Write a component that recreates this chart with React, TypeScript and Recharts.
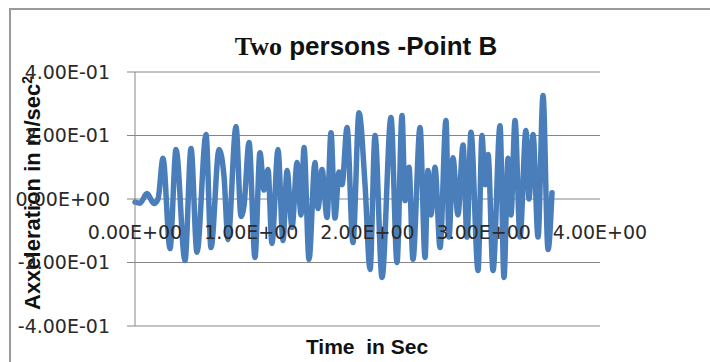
import React from 'react';
import { LineChart, Line, XAxis, YAxis, CartesianGrid } from 'recharts';

// Time stamps (s) of the recorded turning points
const times = [
  0, 0.043, 0.103, 0.163, 0.198, 0.241, 0.301, 0.353, 0.43, 0.482,
  0.533, 0.611, 0.654, 0.723, 0.766, 0.8, 0.869, 0.912, 0.938, 0.981,
  1.032, 1.075, 1.11, 1.144, 1.178, 1.23, 1.273, 1.308, 1.351, 1.394,
  1.428, 1.454, 1.497, 1.548, 1.574, 1.609, 1.652, 1.686, 1.72, 1.755,
  1.781, 1.824, 1.875, 1.927, 1.978, 2.022, 2.065, 2.125, 2.202, 2.254,
  2.297, 2.323, 2.357, 2.391, 2.452, 2.495, 2.52, 2.546, 2.581, 2.624,
  2.675, 2.701, 2.735, 2.778, 2.822, 2.856, 2.89, 2.951, 2.985, 3.011,
  3.037, 3.08, 3.14, 3.174, 3.209, 3.234, 3.269, 3.312, 3.363, 3.389,
  3.424, 3.467, 3.51, 3.553, 3.587,
];

// Acceleration (m/sec^2) at Point B, two persons
const accel = [
  -0.01, -0.013, 0.017, -0.014, 0.0, 0.128, -0.156, 0.156, -0.194, 0.159,
  -0.168, 0.203, -0.153, 0.156, 0.07, -0.128, 0.228, -0.055, -0.02, 0.178,
  -0.184, 0.146, 0.028, 0.093, -0.14, 0.156, -0.131, 0.09, -0.09, 0.115,
  -0.05, 0.162, -0.19, 0.115, -0.03, 0.093, -0.058, 0.209, -0.06, 0.085,
  0.045, 0.225, -0.137, 0.272, 0.05, -0.222, 0.2, -0.247, 0.257, -0.2,
  0.263, -0.005, 0.1, -0.19, 0.225, -0.184, 0.09, -0.05, 0.1, -0.153,
  0.247, -0.12, 0.13, -0.05, 0.17, -0.12, 0.21, -0.225, 0.2, 0.045,
  0.14, -0.225, 0.231, -0.247, 0.128, -0.05, 0.247, -0.12, 0.216, 0.0,
  0.203, -0.12, 0.326, -0.159, 0.02,
];

const xTicks = [0, 1, 2, 3, 4];
const yTicks = [-0.4, -0.2, 0, 0.2, 0.4];

const data = times.map((t, i) => ({ t, a: accel[i] }));

// Excel-style scientific notation, e.g. 4.00E-01
const sci = (v: number) => {
  const [m, e] = v.toExponential(2).split('e');
  const sign = e[0] === '-' ? '-' : '+';
  const digits = e.replace(/^[+-]/, '').padStart(2, '0');
  return `${m}E${sign}${digits}`;
};

const XTick = (props: any) => {
  const { x, y, payload } = props;
  return (
    <text
      x={x}
      y={y}
      dy={-87}
      textAnchor="middle"
      fontFamily="DejaVu Sans"
      fontSize={19}
      fill="#2a2a2a"
    >
      {sci(payload.value)}
    </text>
  );
};

export default function App() {
  return (
    <div>
      <div
        style={{
          position: 'absolute',
          left: 9,
          top: 8,
          width: 701,
          height: 354,
          boxSizing: 'border-box',
          borderLeft: '2px solid #9a9a9a',
          borderTop: '2px solid #9a9a9a',
        }}
      />
      <div style={{ position: 'absolute', left: 0, top: 0 }}>
        <LineChart
          width={710}
          height={362}
          data={data}
          margin={{ top: 72, right: 110, bottom: 16, left: 0 }}
        >
          <CartesianGrid vertical={false} stroke="#868686" strokeWidth={1} />
          <XAxis
            type="number"
            dataKey="t"
            domain={[0, 4]}
            ticks={xTicks}
            interval={0}
            height={20}
            axisLine={false}
            tickLine={false}
            tickSize={0}
            tickMargin={0}
            tick={<XTick />}
          />
          <YAxis
            type="number"
            domain={[-0.4, 0.4]}
            ticks={yTicks}
            interval={0}
            width={135}
            tickSize={8}
            tickMargin={17}
            tickFormatter={sci}
            axisLine={{ stroke: '#868686' }}
            tickLine={{ stroke: '#868686' }}
            tick={{ fontFamily: 'DejaVu Sans', fontSize: 19, fill: '#2a2a2a' }}
          />
          <Line
            type="monotone"
            dataKey="a"
            stroke="#4A7EBB"
            strokeWidth={5.5}
            strokeLinejoin="round"
            strokeLinecap="round"
            dot={false}
            isAnimationActive={false}
          />
          <text x={366} y={55} textAnchor="middle" fontWeight="bold" fontSize={26} fill="#111">
            <tspan fontFamily="Liberation Serif">Two</tspan>
            <tspan fontFamily="Liberation Sans"> persons -Point B</tspan>
          </text>
          <text
            x={367}
            y={354}
            textAnchor="middle"
            fontFamily="Liberation Sans"
            fontWeight="bold"
            fontSize={21}
            fill="#111"
            style={{ whiteSpace: 'pre' }}
          >
            {'Time  in Sec'}
          </text>
          <text
            transform="translate(40,193) rotate(-90)"
            textAnchor="middle"
            fontFamily="Liberation Sans"
            fontWeight="bold"
            fontSize={22}
            fill="#111"
          >
            Axxeleration in m/sec
            <tspan dy={-8} fontSize={14}>2</tspan>
          </text>
        </LineChart>
      </div>
    </div>
  );
}
